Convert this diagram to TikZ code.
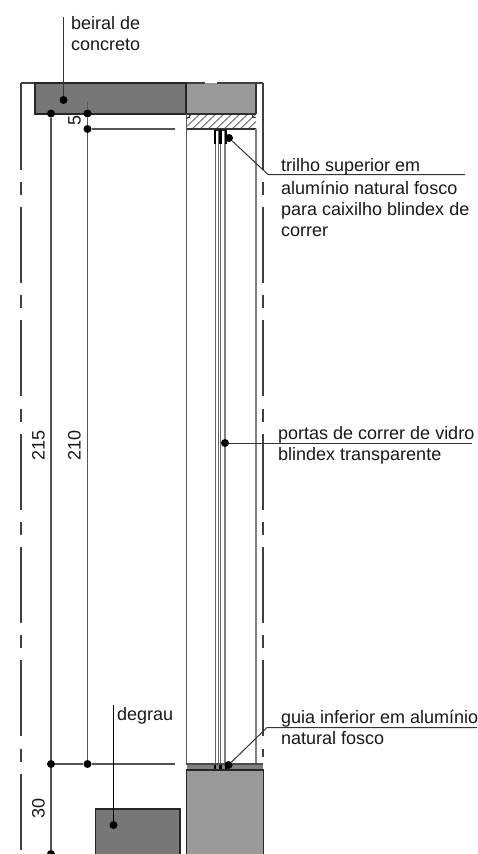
\documentclass[tikz,border=0pt]{standalone}
\usepackage{fontspec}
\setmainfont{Liberation Sans}
\definecolor{darkfill}{HTML}{777777}
\definecolor{midfill}{HTML}{999999}
\definecolor{lineg}{HTML}{555555}
\tikzset{
 dotm/.style={circle,fill=black,inner sep=0pt,minimum size=8pt},
 lbl/.style={anchor=base west,inner sep=0pt,text=black!90,font=\fontsize{18}{21}\selectfont},
 dim/.style={anchor=center,inner sep=0pt,text=black!90,rotate=90,font=\fontsize{18}{21}\selectfont},
 leader/.style={draw=black!80,line width=1pt},
 dimline/.style={draw=lineg,line width=1.3pt},
 axisl/.style={draw=black!75,line width=1.4pt,dash pattern=on 76pt off 12.3pt on 13pt off 12pt},
 axissolid/.style={draw=black!75,line width=1.4pt},
 solidblock/.style={draw=black!85,line width=1.6pt},
 grayl/.style={draw=black!50,line width=2.4pt},
 thing/.style={draw=black!60,line width=1.2pt}
}
\begin{document}
\begin{tikzpicture}[x=1pt,y=-1pt]
\useasboundingbox (0,0) rectangle (477,854);
\fill[white] (0,0) rectangle (477,854);
% fills
\fill[midfill] (187,83) rectangle (256,114);
\fill[midfill] (187,770) rectangle (263,854);
\fill[black!50] (187,764) rectangle (263,770);
% axis lines
\draw[axissolid] (21,83) -- (21,94);
\draw[axissolid] (263,83) -- (263,94);
\draw[axisl] (21,93.7) -- (21,854);
\draw[axisl] (263,93.7) -- (263,757);
\draw[axissolid] (21,83) -- (35,83);
\draw[axissolid] (187,83) -- (205,83) (217,83) -- (263,83);
% blocks
\draw[solidblock,fill=darkfill] (35,83) rectangle (186,114);
\fill[darkfill] (96,810) rectangle (180,854);
\draw[solidblock] (95.5,854) -- (95.5,809) -- (180,809) -- (180,854);
\draw[solidblock] (186.5,854) -- (186.5,770) -- (263.5,770) -- (263.5,854);
\draw[black!80,line width=2.2pt] (256,83) -- (256,114);
% hatch
\begin{scope}
\clip (186,115) rectangle (256,129);
\foreach \i in {0,...,11}{
  \draw[black!55,line width=1pt] (176+8*\i,129) -- (192+8*\i,114);
}
\end{scope}
\draw[black!80,line width=1.2pt] (186,129) -- (256,129);
\draw[black!80,line width=1.2pt] (186,114) -- (256,114);
\draw[black!80,line width=1pt] (189.5,114) -- (189.5,117) -- (186,117);
\draw[black!80,line width=1pt] (252.5,114) -- (252.5,117) -- (256,117);
% vertical jamb lines
\draw[draw=black!65,line width=1.4pt] (186.5,114) -- (186.5,764);
\draw[grayl] (256,129) -- (256,764);
% glass
\foreach \x in {215.7,218.2,220.8}{\draw[thing] (\x,130) -- (\x,764);}
\draw[black!50,line width=2pt] (224.8,130) -- (224.8,764);
% rails
\draw[black!85,line width=1.2pt] (214.5,130) -- (226.5,130);
\fill[black] (214,130) rectangle (216,144);
\fill[black] (219,130) rectangle (222,144);
\fill[black] (225,130) rectangle (227,144);
\fill[black] (214,763) rectangle (216,770);
\fill[black] (219,763) rectangle (222,770);
\fill[black] (225,763) rectangle (227,770);
\draw[black!85,line width=1.4pt] (186,770) -- (263,770);
\draw[black!70,line width=1.4pt] (186,764) -- (263,764);
% dots
\node[dotm] (dBeiral) at (63.5,100) {};
\node[dotm] (d215t) at (51,113.5) {};
\node[dotm] (d5a) at (87.5,113.5) {};
\node[dotm] (d5b) at (87.5,129) {};
\node[dotm] (d215m) at (51,764) {};
\node[dotm] (d210b) at (87.5,764) {};
\node[dotm] (d215b) at (51,854) {};
\node[dotm] (dDegrau) at (113.5,825) {};
\node[dotm] (dTrilho) at (229,138) {};
\node[dotm] (dPortas) at (225,443) {};
\node[dotm] (dGuia) at (228.5,765) {};
% free ends
\coordinate (cBeiral) at (63.5,17);
\coordinate (cDegrau) at (113.5,705);
\coordinate (c5top) at (87.5,102);
\coordinate (c129) at (175,129);
\coordinate (c764) at (175,764);
\coordinate (cT1) at (268,174.5);
\coordinate (cT2) at (465,174.5);
\coordinate (cP) at (472,443);
\coordinate (cG1) at (267,727.5);
\coordinate (cG2) at (477,727.5);
% dimension lines
\draw[dimline] (d215t) -- (d215m);
\draw[dimline] (d215m) -- (d215b);
\draw[dimline] (c5top) -- (d5a);
\draw[dimline] (d5a) -- (d5b);
\draw[dimline] (d5b) -- (d210b);
\draw[dimline,line width=1.4pt] (d5b) -- (c129);
\draw[dimline,line width=1.8pt] (d215m) -- (d210b) -- (c764);
% leaders
\draw[leader] (cBeiral) -- (dBeiral);
\draw[leader,draw=black] (cDegrau) -- (dDegrau);
\draw[leader] (dTrilho) -- (cT1) -- (cT2);
\draw[leader] (dPortas) -- (cP);
\draw[leader] (dGuia) -- (cG1) -- (cG2);
% labels
\node[lbl] (t1) at (71,29) {beiral de};
\node[lbl] (t2) at (71,50) {concreto};
\node[lbl] (t3) at (117,720) {degrau};
\node[lbl] (t4) at (281,171) {trilho superior em};
\node[lbl] (t5) at (281,194) {alumínio natural fosco};
\node[lbl] (t6) at (281,215) {para caixilho blindex de};
\node[lbl] (t7) at (281,236) {correr};
\node[lbl] (t8) at (278,439) {portas de correr de vidro};
\node[lbl] (t9) at (278,460) {blindex transparente};
\node[lbl] (t10) at (281,723) {guia inferior em alumínio};
\node[lbl] (t11) at (281,744) {natural fosco};
\node[dim] (n5) at (74.5,120.5) {5};
\node[dim] (n215) at (38.5,445) {215};
\node[dim] (n210) at (74.5,445) {210};
\node[dim] (n30) at (38.5,808) {30};
\end{tikzpicture}
\end{document}
